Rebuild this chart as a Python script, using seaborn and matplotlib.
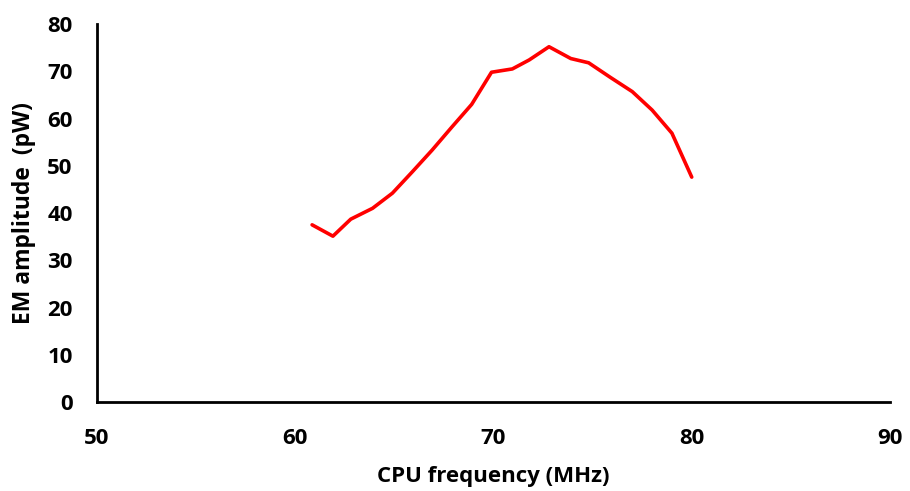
import matplotlib
matplotlib.use("Agg")
import matplotlib.pyplot as plt
import seaborn as sns
import pandas as pd

freq_mhz = [60.85, 61.9, 62.8, 63.9, 64.9, 65.9, 66.9, 67.9, 68.9, 69.9,
            70.95, 71.8, 72.8, 73.9, 74.8, 75.9, 77.0, 78.0, 79.0, 80.0]
amplitude_pw = [37.5, 35.1, 38.7, 41.0, 44.2, 48.7, 53.3, 58.2, 63.0, 69.8,
                70.5, 72.4, 75.2, 72.7, 71.8, 68.7, 65.7, 61.8, 56.9, 47.6]
x_ticks = [50, 60, 70, 80, 90]
y_ticks = [0, 10, 20, 30, 40, 50, 60, 70, 80]

sns.set_theme(style="white")
plt.rcParams['font.family'] = ['Open Sans', 'DejaVu Sans']
plt.rcParams['text.color'] = 'black'
plt.rcParams['axes.labelcolor'] = 'black'

df = pd.DataFrame({"freq": freq_mhz, "amp": amplitude_pw})

fig = plt.figure(figsize=(9.1, 4.91), dpi=100)
ax = fig.add_axes([0.1066, 0.1813, 0.8714, 0.7697])
sns.lineplot(data=df, x="freq", y="amp", ax=ax, sort=False, estimator=None,
             color="#FF0000", linewidth=2.6)

ax.set_xlim(50, 90)
ax.set_ylim(0, 80)
ax.set_xticks(x_ticks)
ax.set_yticks(y_ticks)
fs = 16
ax.set_xticklabels([str(t) for t in x_ticks], fontsize=fs, fontweight='bold')
ax.set_yticklabels([str(t) for t in y_ticks], fontsize=fs, fontweight='bold')
ax.tick_params(axis='x', length=0, pad=19, colors='black')
ax.tick_params(axis='y', length=0, pad=17.5, colors='black')
for s in ['top', 'right']:
    ax.spines[s].set_visible(False)
for s in ['left', 'bottom']:
    ax.spines[s].set_color('black')
    ax.spines[s].set_linewidth(2)
ax.set_xlabel("CPU frequency (MHz)", fontsize=16, fontweight='bold',
              labelpad=12, color='black')
ax.set_ylabel("EM amplitude  (pW)", fontsize=16.5, fontweight='bold',
              labelpad=8, color='black')
ax.grid(False)

fig.savefig("out.png", dpi=100)
